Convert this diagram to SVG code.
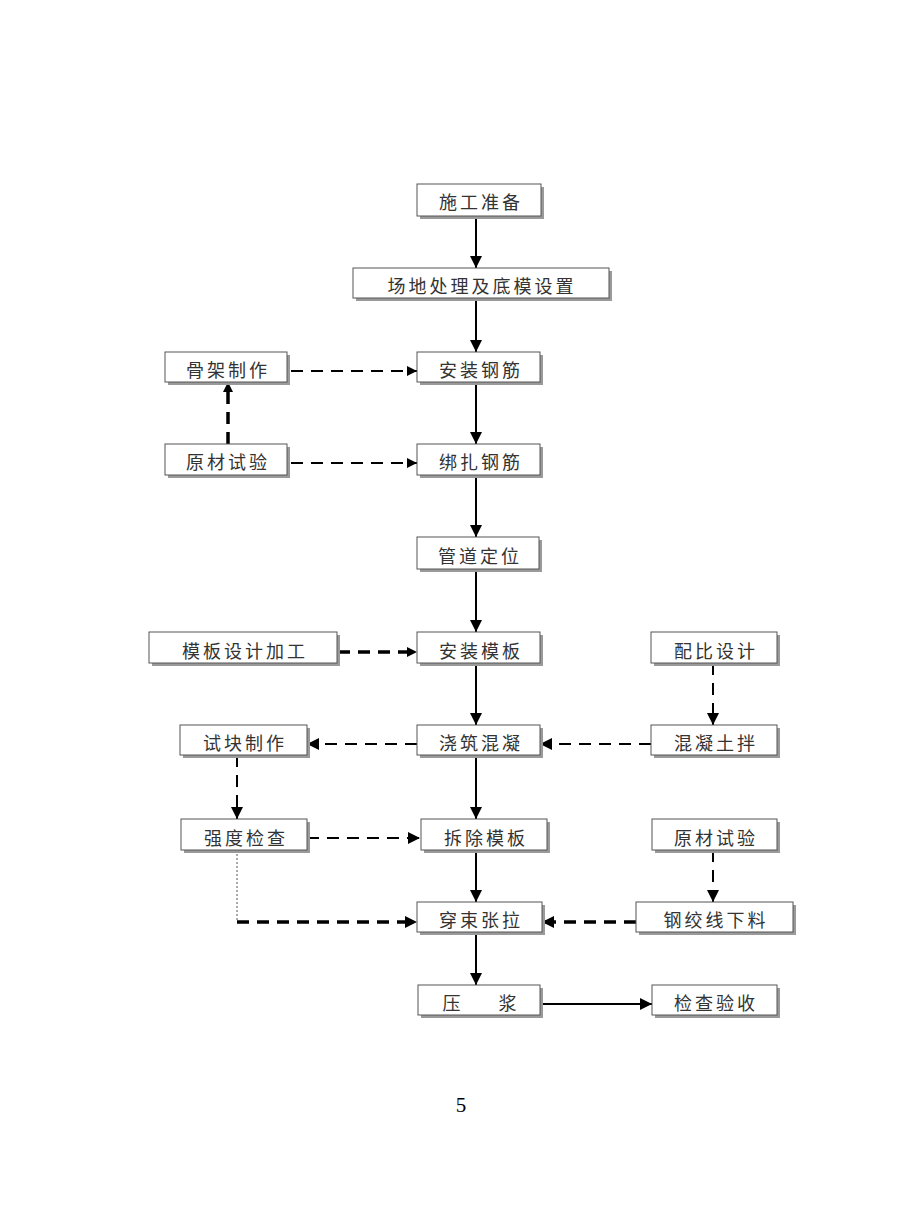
<svg xmlns="http://www.w3.org/2000/svg" width="920" height="1210" viewBox="0 0 920 1210">
<style>
.box rect.b{fill:#fff;stroke:#555;stroke-width:1}
.box rect.s{fill:#9a9a9a}
.box text{font-family:"Noto Sans CJK SC","Noto Sans CJK JP",sans-serif;font-size:18px;fill:#333;text-anchor:middle;dominant-baseline:central;letter-spacing:3px}
.solid{stroke:#000;stroke-width:2;fill:none}
.dash{stroke:#000;stroke-width:2;fill:none;stroke-dasharray:12 8}
.dashb{stroke:#000;stroke-width:3.5;fill:none;stroke-dasharray:12 8}
.dot{stroke:#555;stroke-width:1;fill:none;stroke-dasharray:2 2}
</style>
<defs>
<marker id="ah" viewBox="0 0 10 10" refX="10" refY="5" markerWidth="10" markerHeight="10" markerUnits="userSpaceOnUse" orient="auto"><path d="M0,0L10,5L0,10z" fill="#000"/></marker>
<marker id="ahb" viewBox="0 0 10 10" refX="10" refY="5" markerWidth="12" markerHeight="12" markerUnits="userSpaceOnUse" orient="auto"><path d="M0,0L10,5L0,10z" fill="#000"/></marker>
</defs>
<rect width="920" height="1210" fill="#fff"/>
<g id="connectors">
<line class="solid" x1="476" y1="216" x2="476" y2="268" marker-end="url(#ahb)"/>
<line class="solid" x1="476" y1="298" x2="476" y2="352" marker-end="url(#ahb)"/>
<line class="solid" x1="476" y1="382" x2="476" y2="444" marker-end="url(#ahb)"/>
<line class="solid" x1="476" y1="475" x2="476" y2="537" marker-end="url(#ahb)"/>
<line class="solid" x1="476" y1="569" x2="476" y2="632" marker-end="url(#ahb)"/>
<line class="solid" x1="476" y1="663" x2="476" y2="725" marker-end="url(#ahb)"/>
<line class="solid" x1="476" y1="755" x2="476" y2="819" marker-end="url(#ahb)"/>
<line class="solid" x1="476" y1="850" x2="476" y2="902" marker-end="url(#ahb)"/>
<line class="solid" x1="476" y1="932" x2="476" y2="985" marker-end="url(#ahb)"/>
<line class="solid" x1="540" y1="1004" x2="652" y2="1004" stroke-width="1.5" marker-end="url(#ahb)"/>
<line class="dash" x1="291" y1="371" x2="417" y2="371" marker-end="url(#ah)"/>
<line class="dash" x1="291" y1="463" x2="417" y2="463" marker-end="url(#ah)"/>
<line class="dashb" x1="228" y1="444" x2="228" y2="382" marker-end="url(#ah)"/>
<line class="dashb" x1="338" y1="652" x2="417" y2="652" marker-end="url(#ah)"/>
<line class="dash" x1="417" y1="744" x2="307" y2="744" marker-end="url(#ahb)"/>
<line class="dash" x1="651" y1="744" x2="540" y2="744" marker-end="url(#ahb)"/>
<line class="dash" x1="713" y1="663" x2="713" y2="725" marker-end="url(#ahb)"/>
<line class="dash" x1="237" y1="755" x2="237" y2="819" marker-end="url(#ahb)"/>
<line class="dash" x1="307" y1="838" x2="420" y2="838" marker-end="url(#ahb)"/>
<polyline class="dot" points="237,850 237,922"/>
<line class="dashb" x1="237" y1="922" x2="417" y2="922" marker-end="url(#ahb)"/>
<line class="dash" x1="713" y1="850" x2="713" y2="902" marker-end="url(#ahb)"/>
<line class="dashb" x1="636" y1="922" x2="542" y2="922" marker-end="url(#ahb)"/>
</g>
<g id="n1" class="box"><rect class="s" x="420" y="187" width="124" height="32"/><rect class="b" x="417" y="184" width="124" height="32"/><text x="481" y="201">施工准备</text></g>
<g id="n2" class="box"><rect class="s" x="356" y="271" width="256" height="30"/><rect class="b" x="353" y="268" width="256" height="30"/><text x="482" y="285">场地处理及底模设置</text></g>
<g id="n3" class="box"><rect class="s" x="168" y="355" width="122" height="30"/><rect class="b" x="165" y="352" width="122" height="30"/><text x="228" y="369">骨架制作</text></g>
<g id="n4" class="box"><rect class="s" x="420" y="355" width="123" height="30"/><rect class="b" x="417" y="352" width="123" height="30"/><text x="481" y="369">安装钢筋</text></g>
<g id="n5" class="box"><rect class="s" x="168" y="447" width="122" height="31"/><rect class="b" x="165" y="444" width="122" height="31"/><text x="228" y="461">原材试验</text></g>
<g id="n6" class="box"><rect class="s" x="420" y="447" width="123" height="31"/><rect class="b" x="417" y="444" width="123" height="31"/><text x="481" y="461">绑扎钢筋</text></g>
<g id="n7" class="box"><rect class="s" x="420" y="540" width="122" height="32"/><rect class="b" x="417" y="537" width="122" height="32"/><text x="480" y="555">管道定位</text></g>
<g id="n8" class="box"><rect class="s" x="152" y="635" width="188" height="31"/><rect class="b" x="149" y="632" width="188" height="31"/><text x="245" y="650">模板设计加工</text></g>
<g id="n9" class="box"><rect class="s" x="420" y="635" width="123" height="31"/><rect class="b" x="417" y="632" width="123" height="31"/><text x="481" y="650">安装模板</text></g>
<g id="n10" class="box"><rect class="s" x="654" y="635" width="126" height="31"/><rect class="b" x="651" y="632" width="126" height="31"/><text x="716" y="650">配比设计</text></g>
<g id="n11" class="box"><rect class="s" x="183" y="728" width="127" height="30"/><rect class="b" x="180" y="725" width="127" height="30"/><text x="245" y="742">试块制作</text></g>
<g id="n12" class="box"><rect class="s" x="420" y="728" width="123" height="30"/><rect class="b" x="417" y="725" width="123" height="30"/><text x="481" y="742">浇筑混凝</text></g>
<g id="n13" class="box"><rect class="s" x="654" y="728" width="126" height="30"/><rect class="b" x="651" y="725" width="126" height="30"/><text x="716" y="742">混凝土拌</text></g>
<g id="n14" class="box"><rect class="s" x="184" y="822" width="126" height="31"/><rect class="b" x="181" y="819" width="126" height="31"/><text x="246" y="837">强度检查</text></g>
<g id="n15" class="box"><rect class="s" x="424" y="822" width="126" height="31"/><rect class="b" x="421" y="819" width="126" height="31"/><text x="486" y="837">拆除模板</text></g>
<g id="n16" class="box"><rect class="s" x="655" y="822" width="125" height="31"/><rect class="b" x="652" y="819" width="125" height="31"/><text x="716" y="837">原材试验</text></g>
<g id="n17" class="box"><rect class="s" x="420" y="905" width="125" height="30"/><rect class="b" x="417" y="902" width="125" height="30"/><text x="481" y="919">穿束张拉</text></g>
<g id="n18" class="box"><rect class="s" x="639" y="905" width="157" height="30"/><rect class="b" x="636" y="902" width="157" height="30"/><text x="716" y="919">钢绞线下料</text></g>
<g id="n19" class="box"><rect class="s" x="421" y="988" width="122" height="30"/><rect class="b" x="418" y="985" width="122" height="30"/><text x="481" y="1002" xml:space="preserve">压     浆</text></g>
<g id="n20" class="box"><rect class="s" x="655" y="988" width="125" height="30"/><rect class="b" x="652" y="985" width="125" height="30"/><text x="716" y="1002">检查验收</text></g>
<text x="461" y="1112" font-family="Liberation Serif, serif" font-size="21" text-anchor="middle" fill="#000">5</text>
</svg>
